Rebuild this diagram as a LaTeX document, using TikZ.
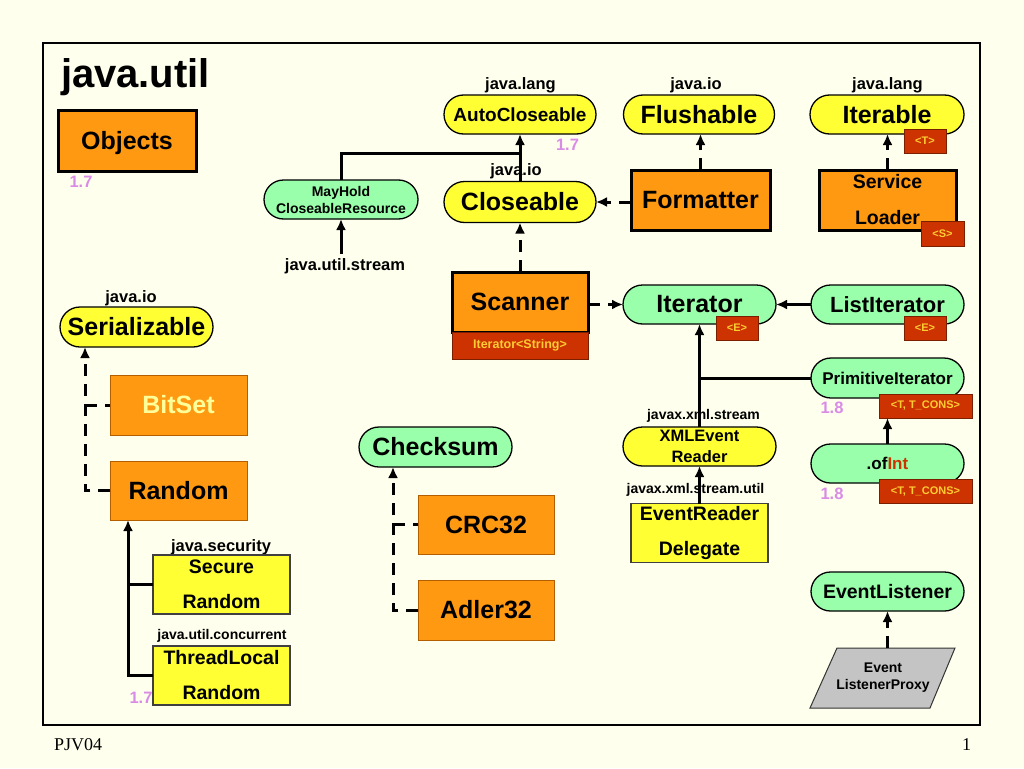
\documentclass[tikz,border=0pt]{standalone}
\usepackage{fontspec}
\setmainfont{Liberation Sans}
\newfontfamily\footfont{Liberation Serif}
\usetikzlibrary{shapes.misc,arrows.meta,calc}
\definecolor{bg}{HTML}{FFFFEE}
\definecolor{myorange}{HTML}{FF9911}
\definecolor{myorangedark}{HTML}{B35F00}
\definecolor{myyellow}{HTML}{FFFF33}
\definecolor{mygreen}{HTML}{99FFAA}
\definecolor{myred}{HTML}{CC3300}
\definecolor{myredtxt}{HTML}{FFCC33}
\definecolor{myviolet}{HTML}{D98CE6}
\definecolor{mygrey}{HTML}{C4C4C4}
\definecolor{intred}{HTML}{CC3300}
\definecolor{paleyel}{HTML}{FFFF99}
\newcommand{\fsz}[1]{\fontsize{#1}{#1}\selectfont}
\newcommand{\fszz}[2]{\fontsize{#1}{#2}\selectfont}
\begin{document}
\begin{tikzpicture}[x=1pt,y=-1pt,
  every node/.style={inner sep=0pt, outer sep=0pt},
  stad/.style={rounded rectangle, draw=black, line width=1.3pt, minimum width=153pt, minimum height=39pt, font=\bfseries\fsz{25}},
  yel/.style={fill=myyellow},
  grn/.style={fill=mygreen},
  obox/.style={rectangle, fill=myorange, draw=black, line width=3pt, minimum width=137pt, minimum height=60pt, font=\bfseries\fsz{25}},
  tbox/.style={rectangle, fill=myorange, draw=myorangedark, line width=1pt, minimum width=137pt, minimum height=60pt, font=\bfseries\fsz{25}},
  ybox/.style={rectangle, fill=myyellow, draw=black!75, line width=1.2pt, minimum width=137pt, minimum height=59pt, align=center, font=\bfseries\fszz{19.5}{35}},
  rbox/.style={rectangle, fill=myred, draw=myred!60!black, line width=0.8pt, text=myredtxt, font=\bfseries\fsz{11}},
  pkg/.style={anchor=base, font=\bfseries\fsz{16.5}},
  spkg/.style={anchor=base, font=\bfseries\fsz{14}},
  ver/.style={anchor=base, text=myviolet, font=\bfseries\fsz{16.5}},
  conn/.style={line width=3pt},
  arr/.style={conn, -{Latex[length=11pt,width=10pt]}},
  dline/.style={conn, dash pattern=on 12pt off 8pt},
  darr/.style={dline, -{Latex[length=11pt,width=10pt]}},
]
\useasboundingbox (0,0) rectangle (1024,768);
\fill[bg] (0,0) rectangle (1024,768);
\draw[line width=1.3pt] (43,43) rectangle (980,725);

% title and footer
\node[anchor=base west, font=\bfseries\fsz{40}] (title) at (61,87) {java.util};
\node[anchor=base west, font=\footfont\fsz{18}] (foot) at (54,750) {PJV04};
\node[anchor=base east, font=\footfont\fsz{18}] (pnum) at (971,750) {1};

% Objects
\node[obox, text depth=0pt, minimum width=138pt, minimum height=61pt] (obj) at (127,140.5) {Objects};
\node[ver] (v1) at (81,187) {1.7};

% top row
\node[pkg] (p1) at (520.5,89) {java.lang};
\node[stad, yel, minimum width=152pt, font=\bfseries\fsz{19}] (autoc) at (520,114.5) {AutoCloseable};
\node[ver] (v2) at (567.5,150) {1.7};
\node[pkg] (p2) at (696,89) {java.io};
\node[stad, yel, minimum width=151pt] (flush) at (699,114.5) {Flushable};
\node[pkg] (p3) at (887.5,89) {java.lang};
\node[stad, yel, minimum width=154pt] (iterable) at (887,114.5) {Iterable};
\node[rbox, minimum width=42pt, minimum height=24pt] (tT) at (925,141) {<T>};

% second row
\node[stad, grn, minimum width=154pt, align=center, font=\bfseries\fszz{14}{17}] (mayhold) at (341,199.5) {MayHold\\CloseableResource};
\node[pkg] (p4) at (516,175) {java.io};
\node[stad, yel, minimum width=152pt, minimum height=41pt] (close) at (520,202) {Closeable};
\node[obox, minimum width=139pt] (fmt) at (700.5,200) {Formatter};
\node[obox, align=center, font=\bfseries\fszz{19.5}{36}] (sl) at (887.5,200) {Service\\Loader};
\node[rbox, minimum width=43pt, minimum height=25pt] (tS) at (942.5,233.5) {<S>};
\node[pkg] (p5) at (345,270) {java.util.stream};

% scanner row
\node[obox, minimum width=136pt] (scan) at (520,302) {Scanner};
\node[rbox, minimum width=136pt, minimum height=27pt, font=\bfseries\fsz{12.5}] (scanit) at (520,345.5) {Iterator<String>};
\node[stad, grn] (iter) at (699.5,304.5) {Iterator};
\node[rbox, minimum width=42pt, minimum height=24pt] (tE1) at (737,328) {<E>};
\node[stad, grn, font=\bfseries\fsz{22}] (list) at (887.5,304.5) {ListIterator};
\node[rbox, minimum width=42pt, minimum height=24pt] (tE2) at (925,328) {<E>};

% primitive iterator
\node[stad, grn, minimum height=40pt, font=\bfseries\fsz{17}] (prim) at (887.5,378) {PrimitiveIterator};
\node[rbox, minimum width=93pt, minimum height=24pt] (pbox) at (925.5,406) {<T, T\_CONS>};
\node[ver] (v3) at (832,413) {1.8};
\node[spkg] (p6) at (703.5,419) {javax.xml.stream};
\node[stad, yel, align=center, font=\bfseries\fszz{16.5}{20.5}] (xml) at (699.5,446.5) {XMLEvent\\Reader};
\node[stad, grn, font=\bfseries\fsz{17}] (ofint) at (887.5,463.5) {.of\textcolor{intred}{Int}};
\node[rbox, minimum width=93pt, minimum height=24pt] (obox2) at (925.5,491.5) {<T, T\_CONS>};
\node[ver] (v4) at (832,499) {1.8};
\node[spkg] (p7) at (695.5,493) {javax.xml.stream.util};
\node[ybox] (erd) at (699.5,533) {EventReader\\Delegate};

% event listener
\node[stad, grn, font=\bfseries\fsz{19.5}] (evl) at (887.5,591.5) {EventListener};
\node[minimum width=120pt, minimum height=60pt] (proxy) at (883,678) {};
\fill[mygrey] ($(proxy.south west)+(-13,0)$) -- ($(proxy.north west)+(14,0)$) -- ($(proxy.north east)+(12,0)$) -- ($(proxy.south east)+(-13,0)$) -- cycle;
\draw[line width=1pt, black!80] ($(proxy.south west)+(-13,0)$) -- ($(proxy.north west)+(14,0)$) -- ($(proxy.north east)+(12,0)$) -- ($(proxy.south east)+(-13,0)$) -- cycle;
\node[align=center, font=\bfseries\fszz{14}{17}] (proxytxt) at (proxy.center) {Event\\ListenerProxy};

% left column
\node[pkg] (p8) at (131,302) {java.io};
\node[stad, yel, minimum height=40pt] (ser) at (136.5,327) {Serializable};
\node[tbox, text=paleyel] (bitset) at (178.5,405) {BitSet};
\node[tbox, minimum height=59pt] (random) at (178.5,490.5) {Random};
\node[pkg] (p9) at (221,551) {java.security};
\node[ybox] (sec) at (221.5,584.5) {Secure\\Random};
\node[spkg] (p10) at (222,639) {java.util.concurrent};
\node[ybox] (tlr) at (221.5,675.5) {ThreadLocal\\Random};
\node[ver] (v5) at (141,703) {1.7};

% checksum
\node[stad, grn, minimum height=40pt] (chk) at (435.5,447) {Checksum};
\node[tbox, minimum width=136pt, minimum height=59pt] (crc) at (486,524.5) {CRC32};
\node[tbox, minimum width=136pt] (adler) at (486,610) {Adler32};

% connectors
\coordinate (j1) at (close.north |- 0,153);
\draw[conn] (mayhold.north) |- (j1);
\draw[arr] (close.north) -- (autoc.south);
\draw[arr] ($(mayhold.south |- p5.north)+(0,-4)$) -- (mayhold.south);
\draw[darr] (fmt.west |- close.east) -- (close.east);
\draw[darr] (fmt.north) -- (fmt.north |- flush.south);
\draw[darr] (sl.north) -- (sl.north |- iterable.south);
\draw[darr] (scan.north) -- (close.south);
\draw[darr] (scan.east |- iter.west) -- (iter.west);
\draw[arr] (list.west) -- (iter.east);
\draw[arr] (xml.north) -- (iter.south);
\draw[conn] (prim.west) -- (prim.west -| iter.south);
\draw[arr] (erd.north) -- (xml.south);
\draw[arr] (ofint.north) -- (ofint.north |- pbox.south);
\draw[darr] (proxy.north -| evl.south) -- (evl.south);

\coordinate (sertrunk) at ($(ser.west |- ser.south)+(25,0)$);
\draw[darr] (random.west) -| (sertrunk);
\draw[dline] (sertrunk |- bitset.west) -- (bitset.west);
\coordinate (randtrunk) at ($(random.south west)+(18,0)$);
\draw[arr] (tlr.west) -| (randtrunk);
\draw[conn] (sec.west) -- (sec.west -| randtrunk);
\coordinate (chktrunk) at ($(chk.west |- chk.south)+(34,0)$);
\draw[darr] (adler.west) -| (chktrunk);
\draw[dline] (chktrunk |- crc.west) -- (crc.west);
\end{tikzpicture}
\end{document}
